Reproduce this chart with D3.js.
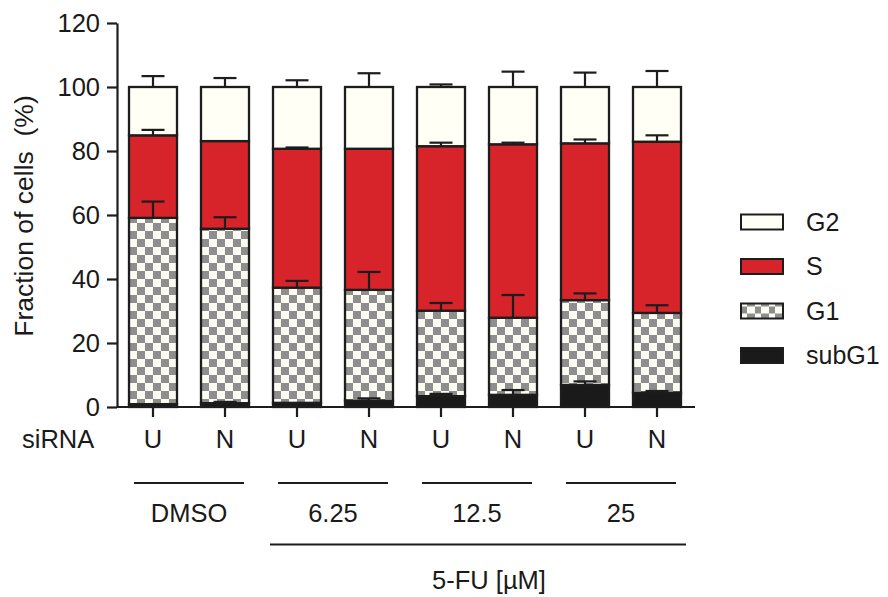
<!DOCTYPE html>
<html>
<head>
<meta charset="utf-8">
<script src="https://cdn.jsdelivr.net/npm/d3@7"></script>
<style>
  html, body { margin: 0; padding: 0; background: #ffffff; }
  svg { display: block; }
  text { font-family: "Liberation Sans", Arial, Helvetica, sans-serif; fill: #1a1a1a; }
</style>
</head>
<body>
<svg id="chart" width="888" height="597"></svg>
<script>
// ---------------- data ----------------
const siRNA = ["U", "N", "U", "N", "U", "N", "U", "N"];
const groups = ["DMSO", "6.25", "12.5", "25"];
const phases = ["subG1", "G1", "S", "G2"];
const legendOrder = ["G2", "S", "G1", "subG1"];

const subG1 = [0.9, 1.2, 1.3, 2.0, 3.4, 3.8, 6.9, 4.5];
const G1    = [58.2, 54.5, 36.0, 34.6, 26.7, 24.1, 26.5, 24.9];
const S     = [25.8, 27.4, 43.4, 44.1, 51.4, 54.2, 49.0, 53.5];
const G2    = [15.1, 16.9, 19.3, 19.3, 18.5, 17.9, 17.6, 17.1];

const subG1Err = [0, 0.4, 0, 0.7, 0.7, 1.5, 1.1, 0.5];
const G1Err    = [5.1, 3.6, 2.1, 5.6, 2.4, 7.1, 2.1, 2.4];
const SErr     = [1.7, 0, 0.4, 0, 1.1, 0.5, 1.2, 2.0];
const G2Err    = [3.4, 2.8, 2.1, 4.3, 0.8, 4.8, 4.5, 5.0];

const yTicks = [0, 20, 40, 60, 80, 100, 120];
const drugLabel = "5-FU [µM]";
const yTitle = "Fraction of cells  (%)";

// ---------------- build table ----------------
const values = { subG1: subG1, G1: G1, S: S, G2: G2 };
const errors = { subG1: subG1Err, G1: G1Err, S: SErr, G2: G2Err };
const rows = siRNA.map((s, i) => {
  const r = { idx: i, siRNA: s };
  phases.forEach(p => r[p] = values[p][i]);
  return r;
});
const stacked = d3.stack().keys(phases)(rows);

// ---------------- scales ----------------
const svg = d3.select("#chart");
const x = d3.scaleBand().domain(d3.range(siRNA.length)).range([117, 693])
  .paddingInner(1 / 3).paddingOuter(1 / 6);
const y = d3.scaleLinear().domain([0, 120]).range([407, 23]);

const fills = { G2: "#fffff6", S: "#d7232a", G1: "url(#checker)", subG1: "#1a1a1a" };
const ink = "#1d1d1d";

// checker pattern
const defs = svg.append("defs");
const pat = defs.append("pattern").attr("id", "checker")
  .attr("patternUnits", "userSpaceOnUse").attr("width", 16).attr("height", 16)
  .attr("x", 129).attr("y", 407);
pat.append("rect").attr("width", 16).attr("height", 16).attr("fill", "#fdfdf4");
pat.append("rect").attr("width", 8).attr("height", 8).attr("fill", "#8e8e8e");
pat.append("rect").attr("x", 8).attr("y", 8).attr("width", 8).attr("height", 8).attr("fill", "#8e8e8e");

// ---------------- bars ----------------
const layers = svg.append("g").selectAll("g").data(stacked).join("g")
  .attr("fill", d => fills[d.key]);
layers.selectAll("rect").data(d => d.map(v => ({ key: d.key, v }))).join("rect")
  .attr("x", d => x(d.v.data.idx))
  .attr("width", x.bandwidth())
  .attr("y", d => y(d.v[1]))
  .attr("height", d => y(d.v[0]) - y(d.v[1]))
  .attr("stroke", ink).attr("stroke-width", 2.3);

// ---------------- error bars ----------------
const errData = [];
stacked.forEach(layer => {
  layer.forEach(v => {
    const e = errors[layer.key][v.data.idx];
    if (e > 0) errData.push({ idx: v.data.idx, top: v[1], err: e });
  });
});
const eg = svg.append("g").attr("stroke", ink).attr("stroke-width", 2.2);
eg.selectAll("line.v").data(errData).join("line").attr("class", "v")
  .attr("x1", d => x(d.idx) + x.bandwidth() / 2)
  .attr("x2", d => x(d.idx) + x.bandwidth() / 2)
  .attr("y1", d => y(d.top)).attr("y2", d => y(d.top + d.err));
eg.selectAll("line.c").data(errData).join("line").attr("class", "c")
  .attr("x1", d => x(d.idx) + x.bandwidth() / 2 - 11.5)
  .attr("x2", d => x(d.idx) + x.bandwidth() / 2 + 11.5)
  .attr("y1", d => y(d.top + d.err)).attr("y2", d => y(d.top + d.err));

// ---------------- axes ----------------
const yAxis = svg.append("g").attr("transform", "translate(117,0)")
  .call(d3.axisLeft(y).tickValues(yTicks).tickSize(10).tickSizeOuter(0).tickPadding(7));
yAxis.select(".domain").attr("stroke", ink).attr("stroke-width", 2.2);
yAxis.selectAll(".tick line").attr("stroke", ink).attr("stroke-width", 2.2);
yAxis.selectAll(".tick text").attr("font-size", 25.5).attr("font-family", null).attr("fill", "#1a1a1a");

const xAxis = svg.append("g").attr("transform", "translate(0,407)")
  .call(d3.axisBottom(x).tickFormat(i => siRNA[i]).tickSize(10).tickSizeOuter(0).tickPadding(13));
xAxis.select(".domain").attr("d", "M117,0H695").attr("stroke", ink).attr("stroke-width", 2.2);
xAxis.selectAll(".tick line").attr("stroke", ink).attr("stroke-width", 2.2);
xAxis.selectAll(".tick text").attr("font-size", 25.5).attr("font-family", null).attr("fill", "#1a1a1a");

svg.append("text").attr("x", 22).attr("y", 448).attr("font-size", 25.5).text("siRNA");

// y title
svg.append("text")
  .attr("transform", "translate(33,216) rotate(-90)")
  .attr("text-anchor", "middle").attr("font-size", 26.5)
  .style("white-space", "pre").text(yTitle);

// ---------------- group labels ----------------
const gAnn = svg.append("g");
groups.forEach((g, gi) => {
  const c = (x(gi * 2) + x(gi * 2 + 1) + x.bandwidth()) / 2;
  gAnn.append("line").attr("x1", c - 55).attr("x2", c + 55)
    .attr("y1", 483).attr("y2", 483).attr("stroke", ink).attr("stroke-width", 2);
  gAnn.append("text").attr("x", c).attr("y", 522).attr("text-anchor", "middle")
    .attr("font-size", 25.5).text(g);
});
const drugStart = x(2), drugEnd = x(siRNA.length - 1) + x.bandwidth();
gAnn.append("line").attr("x1", drugStart - 3).attr("x2", drugEnd + 5)
  .attr("y1", 544.5).attr("y2", 544.5).attr("stroke", ink).attr("stroke-width", 2);
gAnn.append("text").attr("x", (drugStart + drugEnd) / 2 + 12).attr("y", 589)
  .attr("text-anchor", "middle").attr("font-size", 25.5).text(drugLabel);

// ---------------- legend ----------------
const leg = svg.append("g").attr("transform", "translate(741,214.5)");
const li = leg.selectAll("g").data(legendOrder).join("g")
  .attr("transform", (d, i) => `translate(0,${i * 44.5})`);
li.append("rect").attr("width", 42).attr("height", 15)
  .attr("fill", d => d === "G1" ? "url(#checkerL)" : fills[d])
  .attr("stroke", ink).attr("stroke-width", 2);
li.append("text").attr("x", 65).attr("y", 7.5).attr("dy", "0.35em")
  .attr("font-size", 25).text(d => d);

const patL = defs.append("pattern").attr("id", "checkerL")
  .attr("patternUnits", "userSpaceOnUse").attr("width", 14).attr("height", 14)
  .attr("x", 741).attr("y", 304);
patL.append("rect").attr("width", 14).attr("height", 14).attr("fill", "#fdfdf4");
patL.append("rect").attr("x", 7).attr("width", 7).attr("height", 7).attr("fill", "#8e8e8e");
patL.append("rect").attr("y", 7).attr("width", 7).attr("height", 7).attr("fill", "#8e8e8e");
</script>
</body>
</html>
